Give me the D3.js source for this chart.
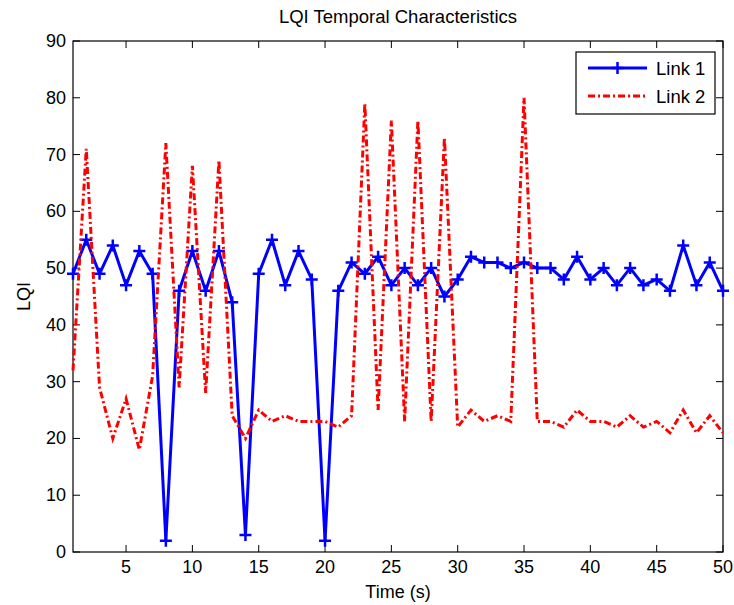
<!DOCTYPE html>
<html>
<head>
<meta charset="utf-8">
<script src="https://cdn.jsdelivr.net/npm/d3@7"></script>
<style>
  body { margin: 0; background: #fff; }
  svg { font-family: "Liberation Sans", Arial, sans-serif; }
</style>
</head>
<body>
<div id="chart"></div>
<script>
const time = d3.range(1, 51)

const link1 = [49,55,49,54,47,53,49,2,46,53,46,53,44,3,49,55,47,53,48,2,
               46,51,49,52,47,50,47,50,45,48,52,51,51,50,51,50,50,48,52,48,
               50,47,50,47,48,46,54,47,51,46]

const link2 = [32,71,29,20,27,18,31,72,29,68,28,69,24,20,25,23,24,23,23,23,
               22,24,79,25,76,23,76,23,73,22,25,23,24,23,80,23,23,22,25,23,
               23,22,24,22,23,21,25,21,24,21]

const xTicks = [5, 10, 15, 20, 25, 30, 35, 40, 45, 50]
const yTicks = [0, 10, 20, 30, 40, 50, 60, 70, 80, 90]

const seriesNames = ["Link 1", "Link 2"]

const width = 734, height = 605
const margin = {top: 41, right: 11, bottom: 53, left: 73}
const tickLen = 7

const svg = d3.select("#chart").append("svg")
  .attr("width", width)
  .attr("height", height)

const x = d3.scaleLinear().domain([1, 50]).range([margin.left, width - margin.right])
const y = d3.scaleLinear().domain([0, 90]).range([height - margin.bottom, margin.top])

// frame
svg.append("rect")
  .attr("x", x(1)).attr("y", y(90))
  .attr("width", x(50) - x(1)).attr("height", y(0) - y(90))
  .attr("fill", "none").attr("stroke", "#000").attr("stroke-width", 1.2)

// ticks (inside, on all four sides)
const tickG = svg.append("g").attr("stroke", "#000").attr("stroke-width", 1)
xTicks.forEach(t => {
  tickG.append("line").attr("x1", x(t)).attr("x2", x(t)).attr("y1", y(0)).attr("y2", y(0) - tickLen)
  tickG.append("line").attr("x1", x(t)).attr("x2", x(t)).attr("y1", y(90)).attr("y2", y(90) + tickLen)
})
yTicks.forEach(t => {
  tickG.append("line").attr("x1", x(1)).attr("x2", x(1) + tickLen).attr("y1", y(t)).attr("y2", y(t))
  tickG.append("line").attr("x1", x(50)).attr("x2", x(50) - tickLen).attr("y1", y(t)).attr("y2", y(t))
})

svg.append("g").selectAll("text")
  .data(xTicks).enter().append("text")
  .attr("x", d => x(d))
  .attr("y", y(0) + 21)
  .attr("text-anchor", "middle")
  .attr("font-size", 18)
  .text(d => d)

svg.append("g").selectAll("text")
  .data(yTicks).enter().append("text")
  .attr("x", x(1) - 7)
  .attr("y", d => y(d) + 6)
  .attr("text-anchor", "end")
  .attr("font-size", 18)
  .text(d => d)

svg.append("text")
  .attr("x", (x(1) + x(50)) / 2).attr("y", 23)
  .attr("text-anchor", "middle").attr("font-size", 18.5)
  .text("LQI Temporal Characteristics")

svg.append("text")
  .attr("x", (x(1) + x(50)) / 2).attr("y", 598)
  .attr("text-anchor", "middle").attr("font-size", 18)
  .text("Time (s)")

svg.append("text")
  .attr("transform", `translate(30,${(y(0) + y(90)) / 2}) rotate(-90)`)
  .attr("text-anchor", "middle").attr("font-size", 18)
  .text("LQI")

const line = d3.line().x((d, i) => x(time[i])).y(d => y(d))

// Link 1
svg.append("path")
  .datum(link1)
  .attr("d", line)
  .attr("fill", "none").attr("stroke", "#0000ff").attr("stroke-width", 3)
  .attr("stroke-linejoin", "round")

const plus = (g, cx, cy, r) => g.append("path")
  .attr("d", `M${cx - r},${cy}H${cx + r}M${cx},${cy - r}V${cy + r}`)
  .attr("stroke", "#0000ff").attr("stroke-width", 2.5).attr("fill", "none")

const markers = svg.append("g")
link1.forEach((v, i) => plus(markers, x(time[i]), y(v), 6))

// Link 2
svg.append("path")
  .datum(link2)
  .attr("d", line)
  .attr("fill", "none").attr("stroke", "#ff0000").attr("stroke-width", 3)
  .attr("stroke-dasharray", "7,3,2,3")

// legend
const lg = svg.append("g")
lg.append("rect")
  .attr("x", 576).attr("y", 52).attr("width", 139).attr("height", 62)
  .attr("fill", "#fff").attr("stroke", "#000").attr("stroke-width", 1.2)

lg.append("line").attr("x1", 588).attr("x2", 647).attr("y1", 68).attr("y2", 68)
  .attr("stroke", "#0000ff").attr("stroke-width", 3)
plus(lg, 617.5, 68, 6)
lg.append("line").attr("x1", 588).attr("x2", 647).attr("y1", 96).attr("y2", 96)
  .attr("stroke", "#ff0000").attr("stroke-width", 3).attr("stroke-dasharray", "7,3,2,3")

lg.selectAll("text.lab")
  .data(seriesNames).enter().append("text")
  .attr("x", 656)
  .attr("y", (d, i) => 74.5 + i * 28)
  .attr("font-size", 18.5)
  .text(d => d)
</script>
</body>
</html>
